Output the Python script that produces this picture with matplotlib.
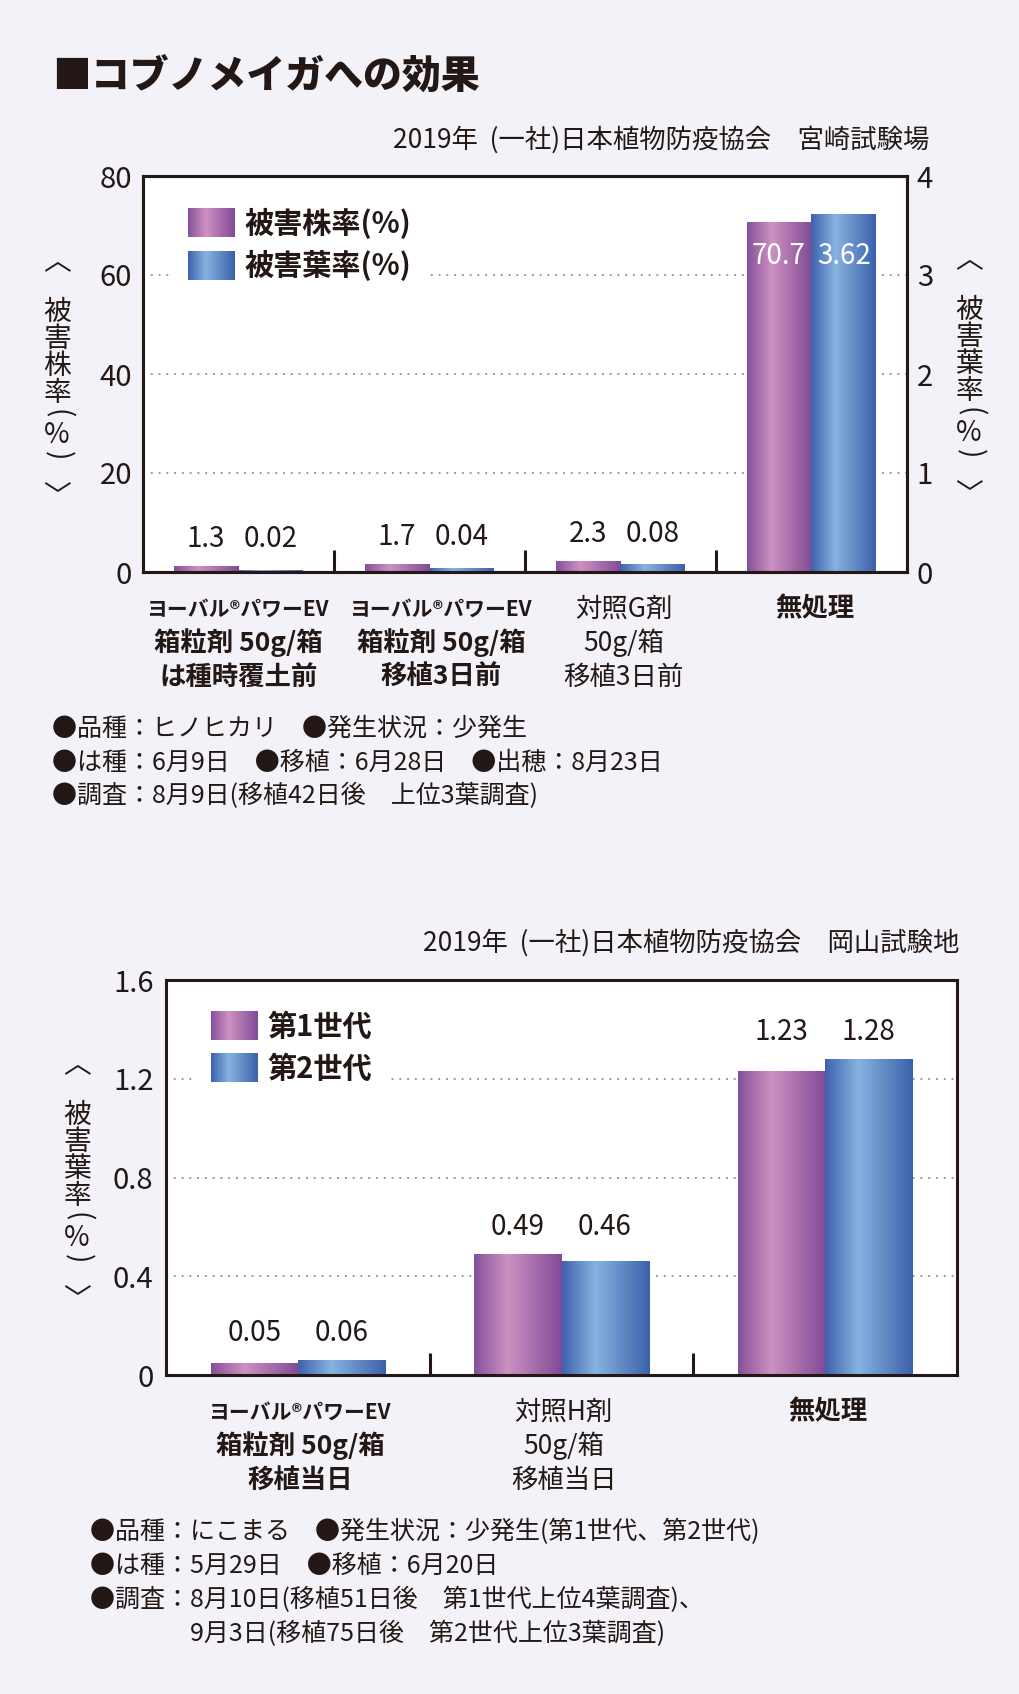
import numpy as np
import matplotlib
matplotlib.use('Agg')
import matplotlib.pyplot as plt
import matplotlib.patches as mpatches
from matplotlib.colors import LinearSegmentedColormap
from matplotlib.image import BboxImage
from matplotlib.legend_handler import HandlerBase
from matplotlib.ticker import FuncFormatter
from matplotlib.transforms import Bbox, TransformedBbox

plt.rcParams['font.family'] = ['Noto Sans CJK JP', 'DejaVu Sans']

W, H = 1020, 1694          # 出力サイズ (px)
PT = 0.72                  # 1px = 0.72pt (dpi=100)
BG = '#f3f2f8'
INK = '#231815'
PRODUCT = 'ヨーバル®パワーEV'

# ---- 宮崎試験場 ----
miyazaki_categories = [
    [PRODUCT, '箱粒剤 50g/箱', 'は種時覆土前'],
    [PRODUCT, '箱粒剤 50g/箱', '移植3日前'],
    ['対照G剤', '50g/箱', '移植3日前'],
    ['無処理'],
]
miyazaki_bold = [True, True, False, True]
kabu_rate = [1.3, 1.7, 2.3, 70.7]       # 被害株率(%)
ha_rate = [0.02, 0.04, 0.08, 3.62]      # 被害葉率(%)
miyazaki_legend = ['被害株率(%)', '被害葉率(%)']
miyazaki_left_ticks = [0, 20, 40, 60, 80]
miyazaki_right_ticks = [0, 1, 2, 3, 4]
miyazaki_notes = [
    '●品種：ヒノヒカリ　●発生状況：少発生',
    '●は種：6月9日　●移植：6月28日　●出穂：8月23日',
    '●調査：8月9日(移植42日後　上位3葉調査)',
]

# ---- 岡山試験地 ----
okayama_categories = [
    [PRODUCT, '箱粒剤 50g/箱', '移植当日'],
    ['対照H剤', '50g/箱', '移植当日'],
    ['無処理'],
]
okayama_bold = [True, False, True]
gen1_rate = [0.05, 0.49, 1.23]
gen2_rate = [0.06, 0.46, 1.28]
okayama_legend = ['第1世代', '第2世代']
okayama_ticks = [0, 0.4, 0.8, 1.2, 1.6]
okayama_notes = [
    '●品種：にこまる　●発生状況：少発生(第1世代、第2世代)',
    '●は種：5月29日　●移植：6月20日',
    '●調査：8月10日(移植51日後　第1世代上位4葉調査)、',
    '　　　　9月3日(移植75日後　第2世代上位3葉調査)',
]

TITLE = '■コブノメイガへの効果'
SUB_MIYAZAKI = '2019年  (一社)日本植物防疫協会　宮崎試験場'
SUB_OKAYAMA = '2019年  (一社)日本植物防疫協会　岡山試験地'

# グラデーション (左右が濃く、中央やや左が明るい)
purple_cmap = LinearSegmentedColormap.from_list(
    'purple', [(0, '#85509b'), (0.38, '#cd91c1'), (1, '#814a96')])
blue_cmap = LinearSegmentedColormap.from_list(
    'blue', [(0, '#3e62ad'), (0.38, '#87b3e0'), (1, '#3b60ab')])
GRAD = np.linspace(0, 1, 256).reshape(1, -1)

BAR_W = 0.34
TICK_FS = 21
VALUE_FS = 20
LEG_FS = 21


class GradientHandler(HandlerBase):
    """凡例用のグラデーション四角"""
    def __init__(self, cmap):
        super().__init__()
        self.cmap = cmap

    def create_artists(self, legend, orig_handle, xdescent, ydescent,
                       width, height, fontsize, trans):
        bb = TransformedBbox(Bbox.from_bounds(-xdescent, -ydescent, width, height), trans)
        img = BboxImage(bb, cmap=self.cmap, interpolation='bilinear')
        img.set_data(GRAD)
        return [img]


def gradient_bars(ax, bars, cmap):
    for b in bars:
        x0, y0 = b.get_xy()
        img = ax.imshow(GRAD, cmap=cmap, aspect='auto', interpolation='bilinear',
                        extent=(x0, x0 + b.get_width(), y0, y0 + b.get_height()),
                        zorder=b.get_zorder() + 0.01)
        img.set_clip_path(b)


def style_axes(ax, n):
    ax.set_facecolor('white')
    for s in ax.spines.values():
        s.set_linewidth(2.2)
        s.set_color(INK)
    ax.set_xlim(-0.5, n - 0.5)
    ax.set_xticks(range(n))
    ax.set_xticklabels([])
    ax.set_xticks(np.arange(n - 1) + 0.5, minor=True)
    ax.tick_params(axis='x', which='major', length=0)
    ax.tick_params(axis='x', which='minor', direction='in', length=16, width=2.2, color=INK)
    ax.tick_params(axis='y', length=0, labelsize=TICK_FS, labelcolor=INK)
    ax.yaxis.set_major_formatter(FuncFormatter(lambda v, _: f'{v:g}'))
    ax.set_axisbelow(True)
    ax.yaxis.grid(True, linestyle=(0, (1, 3)), color='#9a9a9a', linewidth=1.4)


def category_labels(ax, categories, bold_flags, shift_px):
    for i, (lines, bold, dx) in enumerate(zip(categories, bold_flags, shift_px)):
        for j, line in enumerate(lines):
            fs = 15 if line == PRODUCT else 19
            ax.annotate(line, xy=(i, 0), xycoords=('data', 'axes fraction'),
                        xytext=(dx * PT, -37 * PT - 34 * PT * j), textcoords='offset points',
                        ha='center', va='center', fontsize=fs, color=INK,
                        fontweight='bold' if bold else 'normal')


def value_labels(ax, x_a, x_b, vals_a, vals_b, scale_a, ymax):
    # 左右の値は各群で同じ高さに並べる
    for xa, xb, a, b in zip(x_a, x_b, vals_a, vals_b):
        ta, tb = a / scale_a, b
        top = max(ta, tb)
        if top > 0.85 * ymax:
            y, dy, col = min(ta, tb), -34 * PT, 'white'
        else:
            y, dy, col = top, 27 * PT, INK
        for x, v in ((xa, a), (xb, b)):
            ax.annotate(f'{v:g}', xy=(x, y), xytext=(0, dy), textcoords='offset points',
                        ha='center', va='center', fontsize=VALUE_FS, color=col, zorder=6)


def legend(ax, labels, anchor):
    handles = [mpatches.Patch(label=l) for l in labels]
    leg = ax.legend(handles=handles, labels=labels, loc='upper left',
                    bbox_to_anchor=anchor, borderaxespad=0,
                    prop={'weight': 'bold', 'size': LEG_FS},
                    handler_map={handles[0]: GradientHandler(purple_cmap),
                                 handles[1]: GradientHandler(blue_cmap)},
                    handlelength=1.6, handleheight=1.12, handletextpad=0.36,
                    borderpad=0.5, labelspacing=0.4, frameon=True, fancybox=False)
    leg.get_frame().set_facecolor('white')
    leg.get_frame().set_edgecolor('none')
    leg.get_frame().set_alpha(1)
    for t in leg.get_texts():
        t.set_color(INK)
    leg.set_zorder(5)
    return leg


# ︿ 被 害 X 率 ( % ) ﹀ の縦位置 (px)
LABEL_OFFSETS = [0, 50, 77, 104, 131, 152, 173, 194, 235]


def vertical_label(fig, x_px, top_px, word):
    chars = ['︿'] + list(word) + ['(', '%', ')', '﹀']
    for ch, dy in zip(chars, LABEL_OFFSETS):
        rot = -90 if ch in '()' else 0
        fig.text(x_px / W, 1 - (top_px + dy) / H, ch, ha='center', va='center',
                 fontsize=20, color=INK, rotation=rot)


def fig_text(fig, x_px, y_px, s, **kw):
    fig.text(x_px / W, 1 - y_px / H, s, va='center', color=INK, **kw)


fig = plt.figure(figsize=(W / 100, H / 100), dpi=100, facecolor=BG)

fig_text(fig, 52, 76, TITLE, fontsize=28, fontweight='heavy')

# ================= 上段: 宮崎 =================
ax1 = fig.add_axes([143 / W, 1 - 572 / H, 764 / W, 396 / H])
style_axes(ax1, len(kabu_rate))
x = np.arange(len(kabu_rate))
bars_a = ax1.bar(x - BAR_W / 2, kabu_rate, BAR_W, color='#85509b', linewidth=0, zorder=2)
gradient_bars(ax1, bars_a, purple_cmap)
ax1.set_ylim(miyazaki_left_ticks[0], miyazaki_left_ticks[-1])
ax1.set_yticks(miyazaki_left_ticks)
ax1.set_xlim(-0.5, len(x) - 0.5)
ax1.tick_params(axis='y', pad=8)

ax2 = ax1.twinx()
bars_b = ax2.bar(x + BAR_W / 2, ha_rate, BAR_W, color='#3e62ad', linewidth=0, zorder=2)
gradient_bars(ax2, bars_b, blue_cmap)
ax2.set_ylim(miyazaki_right_ticks[0], miyazaki_right_ticks[-1])
ax2.set_yticks(miyazaki_right_ticks)
ax2.set_xlim(-0.5, len(x) - 0.5)
ax2.tick_params(axis='y', length=0, labelsize=TICK_FS, labelcolor=INK, pad=7)
for s in ax2.spines.values():
    s.set_linewidth(2.2)
    s.set_color(INK)
scale = miyazaki_left_ticks[-1] / miyazaki_right_ticks[-1]
value_labels(ax2, x - BAR_W / 2, x + BAR_W / 2, kabu_rate, ha_rate, scale,
             miyazaki_right_ticks[-1])
category_labels(ax1, miyazaki_categories, miyazaki_bold, [0, 12, 3, 3])
legend(ax1, miyazaki_legend, (30 / 764, 1 - 17 / 396))

fig_text(fig, 929, 140, SUB_MIYAZAKI, fontsize=19, ha='right')
vertical_label(fig, 57, 262, '被害株率')
vertical_label(fig, 969, 260, '被害葉率')
for i, line in enumerate(miyazaki_notes):
    fig_text(fig, 52, 729 + 33.5 * i, line, fontsize=18)

# ================= 下段: 岡山 =================
ax3 = fig.add_axes([166 / W, 1 - 1375 / H, 791 / W, 395 / H])
style_axes(ax3, len(gen1_rate))
x3 = np.arange(len(gen1_rate))
bars_c = ax3.bar(x3 - 0.33 / 2, gen1_rate, 0.33, color='#85509b', linewidth=0, zorder=2)
bars_d = ax3.bar(x3 + 0.33 / 2, gen2_rate, 0.33, color='#3e62ad', linewidth=0, zorder=2)
gradient_bars(ax3, bars_c, purple_cmap)
gradient_bars(ax3, bars_d, blue_cmap)
ax3.set_ylim(okayama_ticks[0], okayama_ticks[-1])
ax3.set_yticks(okayama_ticks)
ax3.set_xlim(-0.5, len(x3) - 0.5)
ax3.tick_params(axis='y', pad=9)
value_labels(ax3, x3 - 0.33 / 2, x3 + 0.33 / 2, gen1_rate, gen2_rate, 1, okayama_ticks[-1])
category_labels(ax3, okayama_categories, okayama_bold, [2, 2, 3])
legend(ax3, okayama_legend, (30 / 791, 1 - 17 / 395))

fig_text(fig, 959, 943, SUB_OKAYAMA, fontsize=19, ha='right')
vertical_label(fig, 77, 1065, '被害葉率')
for i, line in enumerate(okayama_notes):
    fig_text(fig, 90, 1532 + 34 * i, line, fontsize=18)

fig.savefig('out.png', dpi=100, facecolor=BG)
